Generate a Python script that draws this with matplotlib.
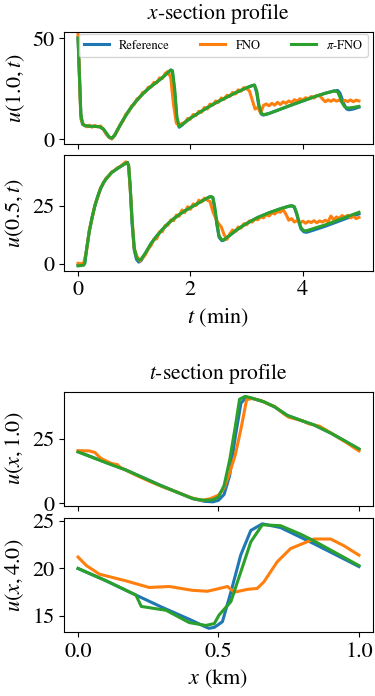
import numpy as np
import matplotlib
matplotlib.use("Agg")
import matplotlib.pyplot as plt

plt.rcParams['font.family'] = ['STIXGeneral', 'DejaVu Serif']
plt.rcParams['mathtext.fontset'] = 'stix'
plt.rcParams['font.size'] = 16

C_REF, C_FNO, C_PI = '#1f77b4', '#ff7f0e', '#2ca02c'
labels = ['Reference', 'FNO', r'$\pi$-FNO']

# ---------------- Panel 1: u(1.0, t) ----------------
t1_ref = [0.00, 0.02, 0.05, 0.08, 0.12, 0.20, 0.30, 0.38, 0.45, 0.50,
          0.55, 0.60, 0.65, 0.70, 0.80, 0.90, 1.00, 1.10, 1.20, 1.30,
          1.40, 1.50, 1.60, 1.65, 1.68, 1.72, 1.76, 1.80, 1.85, 1.90,
          2.00, 2.20, 2.40, 2.60, 2.80, 3.00, 3.10, 3.14, 3.18, 3.22,
          3.26, 3.30, 3.40, 3.60, 3.80, 4.00, 4.20, 4.40, 4.55, 4.62,
          4.66, 4.70, 4.74, 4.78, 4.82, 4.90, 5.00]
u1_ref = [50.5, 35.0, 12.0, 7.5, 6.8, 6.5, 6.4, 6.3, 5.0, 3.0,
          1.0, 0.3, 1.8, 4.5, 9.5, 14.0, 17.8, 21.0, 23.8, 26.2,
          28.3, 30.5, 33.0, 34.3, 33.5, 23.0, 9.5, 6.0, 7.0, 8.3,
          10.5, 14.0, 17.3, 20.2, 23.0, 25.5, 26.6, 26.8, 23.0, 16.0,
          12.5, 12.0, 12.8, 14.9, 17.0, 19.0, 21.0, 22.8, 23.9, 24.2,
          23.0, 20.0, 17.0, 15.0, 14.6, 15.0, 15.9]
u1_pi = [50.0, 35.0, 12.5, 7.6, 6.8, 6.5, 6.4, 6.3, 5.2, 3.3,
         1.3, 0.6, 2.0, 4.6, 9.5, 14.0, 17.8, 21.0, 23.8, 26.2,
         28.3, 30.5, 33.0, 34.3, 34.0, 25.0, 11.0, 6.4, 7.2, 8.4,
         10.5, 14.0, 17.3, 20.2, 23.0, 25.5, 26.6, 26.9, 24.0, 17.0,
         13.0, 12.2, 12.8, 14.9, 17.0, 19.0, 21.0, 22.8, 23.9, 23.6,
         21.0, 18.2, 16.3, 15.6, 15.5, 15.8, 16.3]
t_fno = np.round(np.arange(101) * 0.05, 2)
u1_fno = [52.5, 10.0, 7.4, 6.2, 7.0, 6.0, 6.9, 6.1, 6.6, 5.0,
          2.6, 1.2, 0.2, 2.1, 4.3, 7.4, 9.0, 12.4, 13.5, 16.5,
          17.2, 20.1, 20.6, 23.2, 23.4, 25.8, 25.9, 28.2, 27.9, 30.4,
          30.1, 32.6, 33.6, 30.5, 17.0, 8.0, 6.8, 7.9, 8.2, 10.3,
          10.0, 12.3, 11.8, 13.9, 13.4, 15.8, 15.0, 17.5, 16.9, 19.0,
          18.3, 20.5, 19.8, 21.8, 21.2, 23.2, 22.4, 24.5, 23.8, 25.6,
          25.0, 24.0, 19.5, 15.0, 15.8, 13.0, 16.8, 17.5, 16.6, 17.8,
          16.9, 18.3, 17.2, 18.6, 17.8, 19.0, 18.2, 19.6, 18.9, 20.1,
          19.4, 20.6, 20.0, 21.2, 20.4, 21.8, 21.6, 20.0, 18.6, 19.5,
          18.8, 19.7, 18.9, 19.4, 18.5, 19.3, 18.7, 19.5, 18.6, 19.4,
          19.0]

# ---------------- Panel 2: u(0.5, t) ----------------
t2_ref = [0.00, 0.10, 0.12, 0.15, 0.20, 0.25, 0.30, 0.35, 0.40, 0.45,
          0.50, 0.55, 0.60, 0.70, 0.80, 0.85, 0.88, 0.90, 0.93, 0.96,
          1.00, 1.04, 1.08, 1.12, 1.20, 1.30, 1.40, 1.50, 1.60, 1.70,
          1.80, 1.90, 2.00, 2.10, 2.20, 2.30, 2.36, 2.40, 2.43, 2.47,
          2.51, 2.56, 2.60, 2.70, 2.80, 2.90, 3.00, 3.20, 3.40, 3.60,
          3.75, 3.81, 3.85, 3.89, 3.93, 3.97, 4.02, 4.07, 4.20, 4.40,
          4.60, 4.80, 5.00]
u2_ref = [-0.5, -0.3, 0.5, 6.0, 14.0, 20.0, 25.0, 29.0, 32.3, 34.8,
          36.6, 38.0, 39.3, 41.0, 42.5, 43.3, 43.6, 42.0, 32.0, 18.0,
          6.0, 2.0, 0.8, 1.4, 4.5, 8.8, 12.0, 14.8, 17.3, 19.4,
          21.2, 22.8, 24.2, 25.6, 27.0, 28.3, 29.0, 28.4, 24.0, 17.0,
          11.5, 10.0, 10.3, 12.3, 14.2, 15.9, 17.4, 20.0, 22.0, 23.7,
          24.8, 25.0, 24.3, 21.5, 18.0, 15.0, 13.8, 13.6, 14.6, 16.2,
          18.0, 19.8, 21.5]
u2_pi = [-0.8, -0.5, 0.3, 6.0, 14.0, 20.0, 25.0, 29.0, 32.3, 34.8,
         36.6, 38.0, 39.3, 41.0, 42.5, 43.3, 43.6, 42.2, 33.0, 19.0,
         7.0, 2.8, 1.6, 2.0, 4.8, 8.8, 12.0, 14.8, 17.3, 19.4,
         21.2, 22.8, 24.2, 25.6, 27.0, 28.3, 29.0, 28.6, 25.0, 18.0,
         12.0, 10.3, 10.5, 12.3, 14.2, 15.9, 17.4, 20.0, 22.0, 23.7,
         24.8, 25.0, 24.6, 22.0, 18.5, 15.5, 14.3, 14.3, 15.3, 16.8,
         18.6, 20.4, 22.2]
u2_fno = [0.3, 0.1, 0.4, 5.5, 14.5, 19.5, 25.4, 28.6, 32.6, 34.5,
          36.9, 37.7, 39.6, 40.1, 41.3, 41.8, 42.9, 43.9, 42.5, 24.0,
          6.5, 3.2, 1.3, 2.6, 4.1, 6.6, 7.9, 10.7, 10.8, 13.8,
          13.9, 16.5, 16.7, 18.9, 18.6, 21.0, 20.5, 23.2, 22.1, 24.6,
          23.5, 25.8, 25.1, 27.4, 26.6, 28.3, 27.4, 26.8, 22.5, 19.6,
          17.4, 15.9, 12.6, 10.6, 12.9, 14.6, 13.9, 15.9, 15.4, 17.3,
          16.8, 18.5, 18.0, 19.4, 19.0, 20.3, 19.8, 21.2, 20.6, 21.9,
          21.5, 22.6, 22.2, 23.4, 21.4, 18.8, 19.5, 18.0, 18.7, 17.6,
          18.4, 17.5, 18.3, 17.8, 18.6, 17.7, 18.5, 18.0, 18.8, 18.1,
          20.6, 19.0, 20.2, 19.6, 20.8, 20.1, 20.9, 19.8, 20.6, 19.5,
          20.0]

# ---------------- Panel 3: u(x, 1.0) ----------------
x3_ref = [0.00, 0.10, 0.17, 0.29, 0.36, 0.41, 0.45, 0.48, 0.50, 0.52,
          0.54, 0.56, 0.58, 0.60, 0.62, 0.66, 0.70, 0.745, 0.80, 0.84,
          0.90, 0.95, 1.00]
u3_ref = [20.1, 15.9, 13.0, 7.2, 4.0, 1.8, 0.8, 0.6, 1.2, 3.5,
          11.0, 26.0, 39.0, 41.3, 40.8, 39.5, 37.5, 34.2, 32.0, 30.5,
          27.3, 24.2, 21.0]
x3_pi = [0.00, 0.10, 0.17, 0.29, 0.36, 0.41, 0.45, 0.48, 0.50, 0.52,
         0.54, 0.56, 0.575, 0.595, 0.62, 0.66, 0.70, 0.745, 0.80, 0.84,
         0.90, 0.95, 1.00]
u3_pi = [20.0, 15.8, 13.0, 7.1, 4.0, 1.8, 1.2, 1.4, 2.5, 7.0,
         17.0, 30.0, 40.5, 41.6, 40.9, 39.6, 37.5, 34.2, 32.0, 30.5,
         27.3, 24.3, 21.2]
x3_fno = [0.00, 0.04, 0.06, 0.08, 0.10, 0.12, 0.14, 0.15, 0.20, 0.25,
          0.30, 0.35, 0.40, 0.44, 0.47, 0.50, 0.52, 0.54, 0.56, 0.58,
          0.60, 0.62, 0.65, 0.68, 0.70, 0.73, 0.75, 0.80, 0.82, 0.86,
          0.90, 0.95, 1.00]
u3_fno = [20.5, 20.4, 19.8, 17.6, 16.5, 15.5, 15.1, 14.0, 11.3, 8.8,
          6.5, 4.5, 2.3, 1.2, 1.8, 3.2, 6.0, 12.0, 19.0, 29.0,
          40.3, 40.8, 40.0, 38.5, 37.7, 35.0, 33.5, 32.1, 31.0, 30.0,
          27.4, 24.0, 20.4]

# ---------------- Panel 4: u(x, 4.0) ----------------
x4_ref = [0.00, 0.10, 0.206, 0.30, 0.40, 0.45, 0.466, 0.485, 0.50, 0.514,
          0.544, 0.579, 0.615, 0.656, 0.721, 0.84, 1.00]
u4_ref = [20.0, 18.7, 17.2, 15.9, 14.6, 13.9, 13.7, 13.8, 14.1, 14.4,
          17.5, 21.4, 24.0, 24.7, 24.3, 22.6, 20.2]
x4_pi = [0.00, 0.10, 0.206, 0.225, 0.313, 0.396, 0.455, 0.485, 0.502, 0.544,
         0.579, 0.615, 0.656, 0.721, 0.793, 0.84, 1.00]
u4_pi = [20.0, 18.7, 17.2, 16.0, 15.6, 14.3, 14.0, 14.2, 15.1, 16.5,
         19.6, 22.8, 24.6, 24.5, 23.6, 22.9, 20.3]
x4_fno = [0.00, 0.03, 0.076, 0.17, 0.253, 0.325, 0.407, 0.46, 0.49, 0.532,
          0.556, 0.603, 0.638, 0.662, 0.709, 0.757, 0.84, 0.899, 0.946, 1.00]
u4_fno = [21.2, 20.3, 19.4, 18.7, 18.0, 18.1, 17.7, 17.6, 17.8, 18.1,
          17.5, 17.8, 17.9, 18.6, 20.7, 22.1, 23.1, 23.1, 22.4, 21.4]

W, H = 375, 696
fig = plt.figure(figsize=(W / 100, H / 100), dpi=100)


def axes_px(left, top, right, bottom):
    return fig.add_axes([left / W, 1 - bottom / H, (right - left) / W, (bottom - top) / H])


LW = 2.2
ax1 = axes_px(64, 32, 373, 144)
ax2 = axes_px(64, 155, 373, 271)
ax3 = axes_px(64, 392, 373, 505.7)
ax4 = axes_px(64, 518.3, 373, 632.3)

ax1.plot(t1_ref, u1_ref, color=C_REF, lw=LW, label=labels[0])
ax1.plot(t_fno, u1_fno, color=C_FNO, lw=LW, label=labels[1])
ax1.plot(t1_ref, u1_pi, color=C_PI, lw=LW, label=labels[2])

ax2.plot(t2_ref, u2_ref, color=C_REF, lw=LW)
ax2.plot(t_fno, u2_fno, color=C_FNO, lw=LW)
ax2.plot(t2_ref, u2_pi, color=C_PI, lw=LW)

ax3.plot(x3_ref, u3_ref, color=C_REF, lw=LW)
ax3.plot(x3_fno, u3_fno, color=C_FNO, lw=LW)
ax3.plot(x3_pi, u3_pi, color=C_PI, lw=LW)

ax4.plot(x4_ref, u4_ref, color=C_REF, lw=LW)
ax4.plot(x4_fno, u4_fno, color=C_FNO, lw=LW)
ax4.plot(x4_pi, u4_pi, color=C_PI, lw=LW)

for ax in (ax1, ax2):
    ax.set_xlim(-0.25, 5.25)
    ax.set_xticks([0, 2, 4])
for ax in (ax3, ax4):
    ax.set_xlim(-0.05, 1.05)
    ax.set_xticks([0.0, 0.5, 1.0])

ax1.set_ylim(-2.3, 53.1)
ax1.set_yticks([0, 50])
ax2.set_ylim(-3.0, 46.8)
ax2.set_yticks([0, 25])
ax3.set_ylim(-0.9, 43.3)
ax3.set_yticks([0, 25])
ax4.set_ylim(13.28, 25.28)
ax4.set_yticks([15, 20, 25])

ax1.tick_params(labelbottom=False)
ax3.tick_params(labelbottom=False)

ax1.set_ylabel(r'$u(1.0, t)$')
ax2.set_ylabel(r'$u(0.5, t)$')
ax3.set_ylabel(r'$u(x, 1.0)$')
ax4.set_ylabel(r'$u(x, 4.0)$')
ax2.set_xlabel(r'$t$ (min)')
ax4.set_xlabel(r'$x$ (km)')

ax1.set_title(r'$x$-section profile', pad=9, fontsize=15.5)
ax3.set_title(r'$t$-section profile', pad=9, fontsize=15.5)

ax1.legend(loc='upper left', bbox_to_anchor=(0.0485, 0, 0.935, 0.985), mode='expand',
           ncol=3, fontsize=9, borderaxespad=0)

fig.savefig('out.png', dpi=100)
